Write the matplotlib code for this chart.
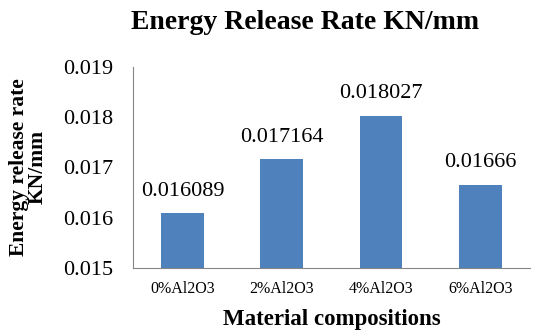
import matplotlib
matplotlib.use("Agg")
import matplotlib.pyplot as plt

categories = ["0%Al2O3", "2%Al2O3", "4%Al2O3", "6%Al2O3"]
values = [0.016089, 0.017164, 0.018027, 0.01666]
value_labels = ["0.016089", "0.017164", "0.018027", "0.01666"]
yticks = [0.015, 0.016, 0.017, 0.018, 0.019]

plt.rcParams["font.family"] = ["Liberation Serif", "DejaVu Serif"]

fig = plt.figure(figsize=(5.42, 3.33), dpi=100)
ax = fig.add_axes([0.245, 0.195, 0.733, 0.604])

x = range(len(categories))
bars = ax.bar(x, values, width=0.43, color="#4F81BD", zorder=2)

for xi, v, lab in zip(x, values, value_labels):
    ax.annotate(lab, (xi, v), xytext=(0, 9), textcoords="offset points",
                ha="center", va="bottom", fontsize=16)

ax.set_xlim(-0.5, len(categories) - 0.5)
ax.set_ylim(0.015, 0.019)
ax.set_yticks(yticks)
ax.set_yticklabels(["%.3f" % t for t in yticks], fontsize=16)
ax.set_xticks(list(x))
ax.set_xticklabels(categories, fontsize=11.5)
ax.tick_params(axis="y", length=0, pad=14)
ax.tick_params(axis="x", length=0, pad=9)

for s in ["top", "right"]:
    ax.spines[s].set_visible(False)
for s in ["left", "bottom"]:
    ax.spines[s].set_color("#868686")

ax.set_xlabel("Material compositions", fontsize=16.5, fontweight="bold", labelpad=9)
fig.text(0.052, 0.497, "Energy release rate\nKN/mm", rotation=90, ha="center",
         va="center", multialignment="center", fontsize=15.5, fontweight="bold",
         linespacing=0.95)
fig.text(0.563, 0.932, "Energy Release Rate KN/mm", ha="center", va="center",
         fontsize=20, fontweight="bold")

fig.savefig("out.png", dpi=100)
